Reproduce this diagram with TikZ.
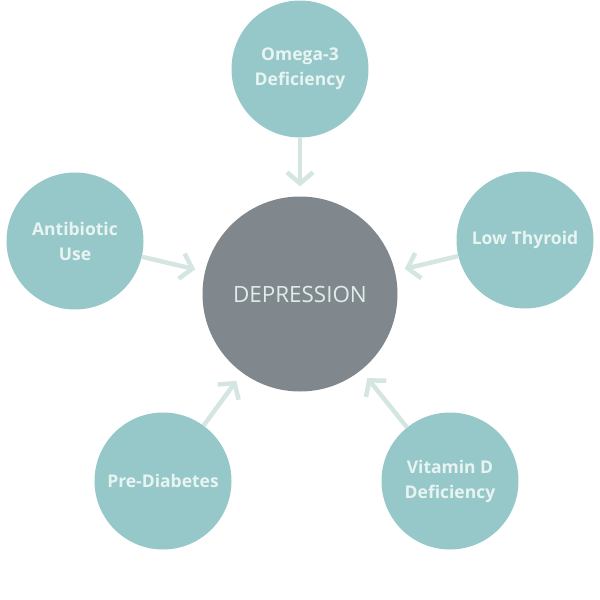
\documentclass[tikz,border=0pt]{standalone}
\usepackage{fontspec}
\setmainfont{Open Sans}
\usetikzlibrary{arrows.meta}
\definecolor{teal}{HTML}{96C8C9}
\definecolor{slate}{HTML}{80878D}
\definecolor{arrowc}{HTML}{D5E6E2}
\definecolor{txtc}{HTML}{E8F4F2}
\definecolor{deptxt}{HTML}{DDEDEA}
\tikzset{
  cause/.style={circle, fill=teal, minimum size=137pt, inner sep=0pt, align=center,
    text=txtc, font=\fontsize{17.5}{25}\selectfont\bfseries},
  center/.style={circle, fill=slate, minimum size=195pt, inner sep=0pt,
    text=deptxt, font=\fontsize{22.4}{27}\selectfont},
  link/.style={draw=arrowc, line width=4.5pt,
    -{Straight Barb[length=11pt,width=26pt,line width=4.5pt]}, shorten >=10pt}
}
\begin{document}
\begin{tikzpicture}[x=1pt,y=-1pt]
\useasboundingbox (0,0) rectangle (600,600);
\node[center] (dep) at (300,294) {DEPRESSION};
\node[cause] (omega) at (300,69) {Omega-3\\Deficiency};
\node[cause] (anti) at (75,241) {Antibiotic\\Use};
\node[cause] (thy) at (525,240) {Low Thyroid};
\node[cause] (pre) at (163,481) {Pre-Diabetes};
\node[cause] (vit) at (450,481) {Vitamin D\\Deficiency};
\draw[link] (omega) -- (dep);
\draw[link] (anti) -- (dep);
\draw[link] (thy) -- (dep);
\draw[link] (pre) -- (dep);
\draw[link] (vit) -- (dep);
\end{tikzpicture}
\end{document}
